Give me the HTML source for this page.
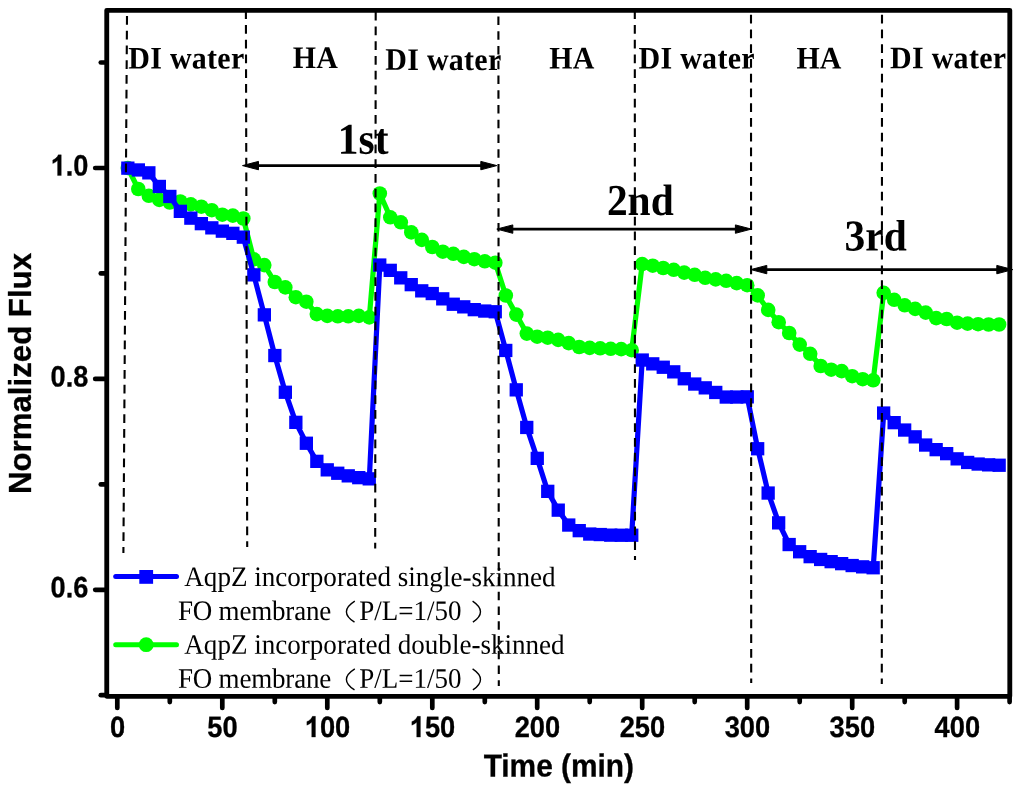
<!DOCTYPE html><html><head><meta charset="utf-8"><title>chart</title>
<style>html,body{margin:0;padding:0;background:#fff;}svg{display:block;}text{font-family:"Liberation Sans",sans-serif;fill:#000;}.b{stroke:#000;stroke-width:0.3px;}.s{font-family:"Liberation Serif",serif;}</style></head><body>
<svg width="1024" height="785" viewBox="0 0 1024 785" style="will-change:transform">
<rect width="1024" height="785" fill="#fff"/>
<polyline points="127.8,168.0 138.3,189.0 148.8,195.8 159.3,199.9 169.8,202.5 180.3,201.5 190.8,204.4 201.3,206.7 211.8,210.2 222.3,214.7 232.8,215.6 243.3,218.5 253.8,259.3 264.3,265.1 274.8,282.0 285.3,287.4 295.8,297.2 306.3,301.7 316.8,314.1 327.3,315.9 337.8,316.3 348.3,316.3 358.8,315.9 369.3,317.4 379.8,193.5 390.3,217.3 400.8,222.3 411.3,232.4 421.8,239.9 432.3,247.0 442.8,251.7 453.3,253.8 463.8,256.9 474.3,259.2 484.8,261.3 495.3,262.7 505.8,295.5 516.3,314.6 526.8,333.6 537.2,336.7 547.7,337.7 558.2,339.9 568.7,343.1 579.2,347.0 589.7,347.9 600.2,348.3 610.7,348.8 621.2,349.1 631.7,350.2 642.2,264.1 652.7,265.7 663.2,268.0 673.7,269.8 684.2,272.6 694.7,274.8 705.2,277.8 715.7,279.4 726.2,280.8 736.7,283.1 747.2,285.2 757.7,295.4 768.2,309.9 778.7,322.2 789.2,333.0 799.7,344.6 810.2,353.8 820.7,366.0 831.2,369.7 841.7,371.1 852.2,376.2 862.7,379.2 873.2,380.3 883.7,292.8 894.2,299.8 904.7,305.3 915.2,308.9 925.7,312.6 936.2,318.1 946.7,319.0 957.1,322.7 967.6,323.6 978.1,324.2 988.6,324.5 999.1,324.5" fill="none" stroke="#00ff00" stroke-width="5.2" stroke-linejoin="round"/>
<circle cx="127.8" cy="168.0" r="7.3" fill="#00ff00"/>
<circle cx="138.3" cy="189.0" r="7.3" fill="#00ff00"/>
<circle cx="148.8" cy="195.8" r="7.3" fill="#00ff00"/>
<circle cx="159.3" cy="199.9" r="7.3" fill="#00ff00"/>
<circle cx="169.8" cy="202.5" r="7.3" fill="#00ff00"/>
<circle cx="180.3" cy="201.5" r="7.3" fill="#00ff00"/>
<circle cx="190.8" cy="204.4" r="7.3" fill="#00ff00"/>
<circle cx="201.3" cy="206.7" r="7.3" fill="#00ff00"/>
<circle cx="211.8" cy="210.2" r="7.3" fill="#00ff00"/>
<circle cx="222.3" cy="214.7" r="7.3" fill="#00ff00"/>
<circle cx="232.8" cy="215.6" r="7.3" fill="#00ff00"/>
<circle cx="243.3" cy="218.5" r="7.3" fill="#00ff00"/>
<circle cx="253.8" cy="259.3" r="7.3" fill="#00ff00"/>
<circle cx="264.3" cy="265.1" r="7.3" fill="#00ff00"/>
<circle cx="274.8" cy="282.0" r="7.3" fill="#00ff00"/>
<circle cx="285.3" cy="287.4" r="7.3" fill="#00ff00"/>
<circle cx="295.8" cy="297.2" r="7.3" fill="#00ff00"/>
<circle cx="306.3" cy="301.7" r="7.3" fill="#00ff00"/>
<circle cx="316.8" cy="314.1" r="7.3" fill="#00ff00"/>
<circle cx="327.3" cy="315.9" r="7.3" fill="#00ff00"/>
<circle cx="337.8" cy="316.3" r="7.3" fill="#00ff00"/>
<circle cx="348.3" cy="316.3" r="7.3" fill="#00ff00"/>
<circle cx="358.8" cy="315.9" r="7.3" fill="#00ff00"/>
<circle cx="369.3" cy="317.4" r="7.3" fill="#00ff00"/>
<circle cx="379.8" cy="193.5" r="7.3" fill="#00ff00"/>
<circle cx="390.3" cy="217.3" r="7.3" fill="#00ff00"/>
<circle cx="400.8" cy="222.3" r="7.3" fill="#00ff00"/>
<circle cx="411.3" cy="232.4" r="7.3" fill="#00ff00"/>
<circle cx="421.8" cy="239.9" r="7.3" fill="#00ff00"/>
<circle cx="432.3" cy="247.0" r="7.3" fill="#00ff00"/>
<circle cx="442.8" cy="251.7" r="7.3" fill="#00ff00"/>
<circle cx="453.3" cy="253.8" r="7.3" fill="#00ff00"/>
<circle cx="463.8" cy="256.9" r="7.3" fill="#00ff00"/>
<circle cx="474.3" cy="259.2" r="7.3" fill="#00ff00"/>
<circle cx="484.8" cy="261.3" r="7.3" fill="#00ff00"/>
<circle cx="495.3" cy="262.7" r="7.3" fill="#00ff00"/>
<circle cx="505.8" cy="295.5" r="7.3" fill="#00ff00"/>
<circle cx="516.3" cy="314.6" r="7.3" fill="#00ff00"/>
<circle cx="526.8" cy="333.6" r="7.3" fill="#00ff00"/>
<circle cx="537.2" cy="336.7" r="7.3" fill="#00ff00"/>
<circle cx="547.7" cy="337.7" r="7.3" fill="#00ff00"/>
<circle cx="558.2" cy="339.9" r="7.3" fill="#00ff00"/>
<circle cx="568.7" cy="343.1" r="7.3" fill="#00ff00"/>
<circle cx="579.2" cy="347.0" r="7.3" fill="#00ff00"/>
<circle cx="589.7" cy="347.9" r="7.3" fill="#00ff00"/>
<circle cx="600.2" cy="348.3" r="7.3" fill="#00ff00"/>
<circle cx="610.7" cy="348.8" r="7.3" fill="#00ff00"/>
<circle cx="621.2" cy="349.1" r="7.3" fill="#00ff00"/>
<circle cx="631.7" cy="350.2" r="7.3" fill="#00ff00"/>
<circle cx="642.2" cy="264.1" r="7.3" fill="#00ff00"/>
<circle cx="652.7" cy="265.7" r="7.3" fill="#00ff00"/>
<circle cx="663.2" cy="268.0" r="7.3" fill="#00ff00"/>
<circle cx="673.7" cy="269.8" r="7.3" fill="#00ff00"/>
<circle cx="684.2" cy="272.6" r="7.3" fill="#00ff00"/>
<circle cx="694.7" cy="274.8" r="7.3" fill="#00ff00"/>
<circle cx="705.2" cy="277.8" r="7.3" fill="#00ff00"/>
<circle cx="715.7" cy="279.4" r="7.3" fill="#00ff00"/>
<circle cx="726.2" cy="280.8" r="7.3" fill="#00ff00"/>
<circle cx="736.7" cy="283.1" r="7.3" fill="#00ff00"/>
<circle cx="747.2" cy="285.2" r="7.3" fill="#00ff00"/>
<circle cx="757.7" cy="295.4" r="7.3" fill="#00ff00"/>
<circle cx="768.2" cy="309.9" r="7.3" fill="#00ff00"/>
<circle cx="778.7" cy="322.2" r="7.3" fill="#00ff00"/>
<circle cx="789.2" cy="333.0" r="7.3" fill="#00ff00"/>
<circle cx="799.7" cy="344.6" r="7.3" fill="#00ff00"/>
<circle cx="810.2" cy="353.8" r="7.3" fill="#00ff00"/>
<circle cx="820.7" cy="366.0" r="7.3" fill="#00ff00"/>
<circle cx="831.2" cy="369.7" r="7.3" fill="#00ff00"/>
<circle cx="841.7" cy="371.1" r="7.3" fill="#00ff00"/>
<circle cx="852.2" cy="376.2" r="7.3" fill="#00ff00"/>
<circle cx="862.7" cy="379.2" r="7.3" fill="#00ff00"/>
<circle cx="873.2" cy="380.3" r="7.3" fill="#00ff00"/>
<circle cx="883.7" cy="292.8" r="7.3" fill="#00ff00"/>
<circle cx="894.2" cy="299.8" r="7.3" fill="#00ff00"/>
<circle cx="904.7" cy="305.3" r="7.3" fill="#00ff00"/>
<circle cx="915.2" cy="308.9" r="7.3" fill="#00ff00"/>
<circle cx="925.7" cy="312.6" r="7.3" fill="#00ff00"/>
<circle cx="936.2" cy="318.1" r="7.3" fill="#00ff00"/>
<circle cx="946.7" cy="319.0" r="7.3" fill="#00ff00"/>
<circle cx="957.1" cy="322.7" r="7.3" fill="#00ff00"/>
<circle cx="967.6" cy="323.6" r="7.3" fill="#00ff00"/>
<circle cx="978.1" cy="324.2" r="7.3" fill="#00ff00"/>
<circle cx="988.6" cy="324.5" r="7.3" fill="#00ff00"/>
<circle cx="999.1" cy="324.5" r="7.3" fill="#00ff00"/>
<polyline points="127.8,168.2 138.3,170.0 148.8,172.8 159.3,186.4 169.8,196.4 180.3,211.3 190.8,218.2 201.3,223.7 211.8,227.8 222.3,231.2 232.8,233.3 243.3,237.2 253.8,274.9 264.3,314.8 274.8,355.5 285.3,392.2 295.8,422.3 306.3,443.2 316.8,461.3 327.3,469.9 337.8,473.2 348.3,475.8 358.8,477.6 369.3,478.9 379.8,265.0 390.3,270.3 400.8,277.8 411.3,284.6 421.8,290.8 432.3,293.5 442.8,298.9 453.3,304.2 463.8,306.9 474.3,309.6 484.8,311.0 495.3,311.7 505.8,350.4 516.3,389.9 526.8,427.4 537.2,458.3 547.7,491.3 558.2,510.1 568.7,525.0 579.2,530.6 589.7,534.0 600.2,534.5 610.7,535.1 621.2,535.3 631.7,535.3 642.2,360.0 652.7,363.8 663.2,367.2 673.7,371.8 684.2,378.7 694.7,384.0 705.2,387.9 715.7,392.4 726.2,397.0 736.7,397.0 747.2,396.8 757.7,448.7 768.2,493.0 778.7,522.9 789.2,544.5 799.7,551.8 810.2,556.6 820.7,559.4 831.2,561.6 841.7,563.6 852.2,565.5 862.7,566.9 873.2,567.8 883.7,413.0 894.2,422.6 904.7,430.0 915.2,436.8 925.7,445.0 936.2,449.6 946.7,453.6 957.1,458.8 967.6,462.4 978.1,464.0 988.6,464.9 999.1,465.2" fill="none" stroke="#0000ff" stroke-width="5.2" stroke-linejoin="round"/>
<rect x="121.2" y="161.5" width="13.3" height="13.3" fill="#0000ff"/>
<rect x="131.7" y="163.3" width="13.3" height="13.3" fill="#0000ff"/>
<rect x="142.2" y="166.2" width="13.3" height="13.3" fill="#0000ff"/>
<rect x="152.7" y="179.8" width="13.3" height="13.3" fill="#0000ff"/>
<rect x="163.2" y="189.8" width="13.3" height="13.3" fill="#0000ff"/>
<rect x="173.7" y="204.7" width="13.3" height="13.3" fill="#0000ff"/>
<rect x="184.2" y="211.5" width="13.3" height="13.3" fill="#0000ff"/>
<rect x="194.7" y="217.0" width="13.3" height="13.3" fill="#0000ff"/>
<rect x="205.2" y="221.2" width="13.3" height="13.3" fill="#0000ff"/>
<rect x="215.7" y="224.5" width="13.3" height="13.3" fill="#0000ff"/>
<rect x="226.2" y="226.7" width="13.3" height="13.3" fill="#0000ff"/>
<rect x="236.7" y="230.5" width="13.3" height="13.3" fill="#0000ff"/>
<rect x="247.2" y="268.2" width="13.3" height="13.3" fill="#0000ff"/>
<rect x="257.7" y="308.2" width="13.3" height="13.3" fill="#0000ff"/>
<rect x="268.2" y="348.9" width="13.3" height="13.3" fill="#0000ff"/>
<rect x="278.7" y="385.6" width="13.3" height="13.3" fill="#0000ff"/>
<rect x="289.2" y="415.7" width="13.3" height="13.3" fill="#0000ff"/>
<rect x="299.7" y="436.6" width="13.3" height="13.3" fill="#0000ff"/>
<rect x="310.2" y="454.7" width="13.3" height="13.3" fill="#0000ff"/>
<rect x="320.6" y="463.2" width="13.3" height="13.3" fill="#0000ff"/>
<rect x="331.1" y="466.6" width="13.3" height="13.3" fill="#0000ff"/>
<rect x="341.6" y="469.2" width="13.3" height="13.3" fill="#0000ff"/>
<rect x="352.1" y="471.0" width="13.3" height="13.3" fill="#0000ff"/>
<rect x="362.6" y="472.2" width="13.3" height="13.3" fill="#0000ff"/>
<rect x="373.1" y="258.4" width="13.3" height="13.3" fill="#0000ff"/>
<rect x="383.6" y="263.7" width="13.3" height="13.3" fill="#0000ff"/>
<rect x="394.1" y="271.2" width="13.3" height="13.3" fill="#0000ff"/>
<rect x="404.6" y="278.0" width="13.3" height="13.3" fill="#0000ff"/>
<rect x="415.1" y="284.2" width="13.3" height="13.3" fill="#0000ff"/>
<rect x="425.6" y="286.9" width="13.3" height="13.3" fill="#0000ff"/>
<rect x="436.1" y="292.2" width="13.3" height="13.3" fill="#0000ff"/>
<rect x="446.6" y="297.6" width="13.3" height="13.3" fill="#0000ff"/>
<rect x="457.1" y="300.2" width="13.3" height="13.3" fill="#0000ff"/>
<rect x="467.6" y="303.0" width="13.3" height="13.3" fill="#0000ff"/>
<rect x="478.1" y="304.4" width="13.3" height="13.3" fill="#0000ff"/>
<rect x="488.6" y="305.1" width="13.3" height="13.3" fill="#0000ff"/>
<rect x="499.1" y="343.8" width="13.3" height="13.3" fill="#0000ff"/>
<rect x="509.6" y="383.2" width="13.3" height="13.3" fill="#0000ff"/>
<rect x="520.1" y="420.8" width="13.3" height="13.3" fill="#0000ff"/>
<rect x="530.6" y="451.7" width="13.3" height="13.3" fill="#0000ff"/>
<rect x="541.1" y="484.7" width="13.3" height="13.3" fill="#0000ff"/>
<rect x="551.6" y="503.5" width="13.3" height="13.3" fill="#0000ff"/>
<rect x="562.1" y="518.4" width="13.3" height="13.3" fill="#0000ff"/>
<rect x="572.6" y="524.0" width="13.3" height="13.3" fill="#0000ff"/>
<rect x="583.1" y="527.4" width="13.3" height="13.3" fill="#0000ff"/>
<rect x="593.6" y="527.9" width="13.3" height="13.3" fill="#0000ff"/>
<rect x="604.1" y="528.5" width="13.3" height="13.3" fill="#0000ff"/>
<rect x="614.6" y="528.6" width="13.3" height="13.3" fill="#0000ff"/>
<rect x="625.1" y="528.6" width="13.3" height="13.3" fill="#0000ff"/>
<rect x="635.6" y="353.4" width="13.3" height="13.3" fill="#0000ff"/>
<rect x="646.1" y="357.2" width="13.3" height="13.3" fill="#0000ff"/>
<rect x="656.6" y="360.6" width="13.3" height="13.3" fill="#0000ff"/>
<rect x="667.1" y="365.2" width="13.3" height="13.3" fill="#0000ff"/>
<rect x="677.6" y="372.1" width="13.3" height="13.3" fill="#0000ff"/>
<rect x="688.1" y="377.4" width="13.3" height="13.3" fill="#0000ff"/>
<rect x="698.6" y="381.2" width="13.3" height="13.3" fill="#0000ff"/>
<rect x="709.1" y="385.8" width="13.3" height="13.3" fill="#0000ff"/>
<rect x="719.6" y="390.4" width="13.3" height="13.3" fill="#0000ff"/>
<rect x="730.1" y="390.4" width="13.3" height="13.3" fill="#0000ff"/>
<rect x="740.6" y="390.2" width="13.3" height="13.3" fill="#0000ff"/>
<rect x="751.0" y="442.1" width="13.3" height="13.3" fill="#0000ff"/>
<rect x="761.5" y="486.4" width="13.3" height="13.3" fill="#0000ff"/>
<rect x="772.0" y="516.2" width="13.3" height="13.3" fill="#0000ff"/>
<rect x="782.5" y="537.9" width="13.3" height="13.3" fill="#0000ff"/>
<rect x="793.0" y="545.1" width="13.3" height="13.3" fill="#0000ff"/>
<rect x="803.5" y="550.0" width="13.3" height="13.3" fill="#0000ff"/>
<rect x="814.0" y="552.8" width="13.3" height="13.3" fill="#0000ff"/>
<rect x="824.5" y="555.0" width="13.3" height="13.3" fill="#0000ff"/>
<rect x="835.0" y="557.0" width="13.3" height="13.3" fill="#0000ff"/>
<rect x="845.5" y="558.9" width="13.3" height="13.3" fill="#0000ff"/>
<rect x="856.0" y="560.2" width="13.3" height="13.3" fill="#0000ff"/>
<rect x="866.5" y="561.1" width="13.3" height="13.3" fill="#0000ff"/>
<rect x="877.0" y="406.4" width="13.3" height="13.3" fill="#0000ff"/>
<rect x="887.5" y="416.0" width="13.3" height="13.3" fill="#0000ff"/>
<rect x="898.0" y="423.4" width="13.3" height="13.3" fill="#0000ff"/>
<rect x="908.5" y="430.2" width="13.3" height="13.3" fill="#0000ff"/>
<rect x="919.0" y="438.4" width="13.3" height="13.3" fill="#0000ff"/>
<rect x="929.5" y="443.0" width="13.3" height="13.3" fill="#0000ff"/>
<rect x="940.0" y="447.0" width="13.3" height="13.3" fill="#0000ff"/>
<rect x="950.5" y="452.2" width="13.3" height="13.3" fill="#0000ff"/>
<rect x="961.0" y="455.8" width="13.3" height="13.3" fill="#0000ff"/>
<rect x="971.5" y="457.4" width="13.3" height="13.3" fill="#0000ff"/>
<rect x="982.0" y="458.2" width="13.3" height="13.3" fill="#0000ff"/>
<rect x="992.5" y="458.6" width="13.3" height="13.3" fill="#0000ff"/>
<line x1="115.7" y1="576.6" x2="176.5" y2="576.6" stroke="#0000ff" stroke-width="5" stroke-linecap="round"/>
<rect x="139.3" y="570.0" width="13.8" height="13.8" fill="#0000ff"/>
<line x1="115.7" y1="644.7" x2="176.5" y2="644.7" stroke="#00ff00" stroke-width="5" stroke-linecap="round"/>
<circle cx="146.2" cy="644.7" r="7.4" fill="#00ff00"/>
<text class="s" transform="translate(184.30,586.00) rotate(0.03) scale(1.003,1.045)" font-size="27">AqpZ incorporated single-skinned</text>
<text class="s" transform="translate(184.30,653.70) rotate(0.03) scale(1.003,1.045)" font-size="27">AqpZ incorporated double-skinned</text>
<text class="s" transform="translate(177.90,620.00) rotate(0.03) scale(1,1.045)" font-size="27" textLength="153.4" lengthAdjust="spacing">FO membrane</text>
<text class="s" transform="translate(359.20,620.00) rotate(0.03) scale(1,1.045)" font-size="27">P/L=1/50</text>
<text class="s" transform="translate(177.90,687.80) rotate(0.03) scale(1,1.045)" font-size="27" textLength="153.4" lengthAdjust="spacing">FO membrane</text>
<text class="s" transform="translate(359.20,687.80) rotate(0.03) scale(1,1.045)" font-size="27">P/L=1/50</text>
<path d="M354.8,601.2 Q338.2,611.7 354.5,622.2" fill="none" stroke="#000" stroke-width="1.4"/>
<path d="M472.6,601.2 Q488.2,611.7 472.9,622.2" fill="none" stroke="#000" stroke-width="1.4"/>
<path d="M354.8,668.9 Q338.2,679.4 354.5,689.9" fill="none" stroke="#000" stroke-width="1.4"/>
<path d="M472.6,668.9 Q488.2,679.4 472.9,689.9" fill="none" stroke="#000" stroke-width="1.4"/>
<rect x="106.75" y="10.35" width="903.05" height="685.95" fill="none" stroke="#000" stroke-width="4.85" stroke-linejoin="round"/>
<line x1="95.2" y1="168.0" x2="105.5" y2="168.0" stroke="#000" stroke-width="4.7" stroke-linecap="round"/>
<line x1="95.2" y1="378.9" x2="105.5" y2="378.9" stroke="#000" stroke-width="4.7" stroke-linecap="round"/>
<line x1="95.2" y1="589.8" x2="105.5" y2="589.8" stroke="#000" stroke-width="4.7" stroke-linecap="round"/>
<line x1="100.8" y1="62.5" x2="105.5" y2="62.5" stroke="#000" stroke-width="4.7" stroke-linecap="round"/>
<line x1="100.8" y1="273.4" x2="105.5" y2="273.4" stroke="#000" stroke-width="4.7" stroke-linecap="round"/>
<line x1="100.8" y1="484.4" x2="105.5" y2="484.4" stroke="#000" stroke-width="4.7" stroke-linecap="round"/>
<line x1="100.8" y1="695.2" x2="105.5" y2="695.2" stroke="#000" stroke-width="4.7" stroke-linecap="round"/>
<line x1="117.3" y1="697.5" x2="117.3" y2="708" stroke="#000" stroke-width="4.7" stroke-linecap="round"/>
<line x1="222.3" y1="697.5" x2="222.3" y2="708" stroke="#000" stroke-width="4.7" stroke-linecap="round"/>
<line x1="327.3" y1="697.5" x2="327.3" y2="708" stroke="#000" stroke-width="4.7" stroke-linecap="round"/>
<line x1="432.3" y1="697.5" x2="432.3" y2="708" stroke="#000" stroke-width="4.7" stroke-linecap="round"/>
<line x1="537.2" y1="697.5" x2="537.2" y2="708" stroke="#000" stroke-width="4.7" stroke-linecap="round"/>
<line x1="642.2" y1="697.5" x2="642.2" y2="708" stroke="#000" stroke-width="4.7" stroke-linecap="round"/>
<line x1="747.2" y1="697.5" x2="747.2" y2="708" stroke="#000" stroke-width="4.7" stroke-linecap="round"/>
<line x1="852.2" y1="697.5" x2="852.2" y2="708" stroke="#000" stroke-width="4.7" stroke-linecap="round"/>
<line x1="957.1" y1="697.5" x2="957.1" y2="708" stroke="#000" stroke-width="4.7" stroke-linecap="round"/>
<line x1="169.8" y1="697.5" x2="169.8" y2="702.1" stroke="#000" stroke-width="4.7" stroke-linecap="round"/>
<line x1="274.8" y1="697.5" x2="274.8" y2="702.1" stroke="#000" stroke-width="4.7" stroke-linecap="round"/>
<line x1="379.8" y1="697.5" x2="379.8" y2="702.1" stroke="#000" stroke-width="4.7" stroke-linecap="round"/>
<line x1="484.8" y1="697.5" x2="484.8" y2="702.1" stroke="#000" stroke-width="4.7" stroke-linecap="round"/>
<line x1="589.7" y1="697.5" x2="589.7" y2="702.1" stroke="#000" stroke-width="4.7" stroke-linecap="round"/>
<line x1="694.7" y1="697.5" x2="694.7" y2="702.1" stroke="#000" stroke-width="4.7" stroke-linecap="round"/>
<line x1="799.7" y1="697.5" x2="799.7" y2="702.1" stroke="#000" stroke-width="4.7" stroke-linecap="round"/>
<line x1="904.7" y1="697.5" x2="904.7" y2="702.1" stroke="#000" stroke-width="4.7" stroke-linecap="round"/>
<line x1="1009.6" y1="697.5" x2="1009.6" y2="702.1" stroke="#000" stroke-width="4.7" stroke-linecap="round"/>
<path d="M61.28,175.55L57.56,175.55L57.56,160.62Q55.52,162.65 52.75,163.62L52.75,160.03Q54.21,159.52 55.92,158.11Q57.62,156.69 58.26,154.80L61.28,154.80Z" fill="#000" stroke="#000" stroke-width="0.3"/>
<text class="b" transform="translate(65.70,175.55) rotate(0.03) scale(0.968,1.05)" font-size="28" font-weight="bold">.0</text>
<text class="b" transform="translate(50.62,386.45) rotate(0.03) scale(0.968,1.05)" font-size="28" font-weight="bold">0.8</text>
<text class="b" transform="translate(50.62,597.35) rotate(0.03) scale(0.968,1.05)" font-size="28" font-weight="bold">0.6</text>
<text class="b" transform="translate(109.96,737.10) rotate(0.03) scale(0.975,1.05)" font-size="28" font-weight="bold">0</text>
<text class="b" transform="translate(207.34,737.10) rotate(0.03) scale(0.975,1.05)" font-size="28" font-weight="bold">50</text>
<path d="M315.46,737.10L311.71,737.10L311.71,722.17Q309.66,724.20 306.87,725.17L306.87,721.58Q308.34,721.07 310.06,719.66Q311.78,718.24 312.42,716.35L315.46,716.35Z" fill="#000" stroke="#000" stroke-width="0.3"/>
<text class="b" transform="translate(319.91,737.10) rotate(0.03) scale(0.975,1.05)" font-size="28" font-weight="bold">00</text>
<path d="M420.43,737.10L416.69,737.10L416.69,722.17Q414.63,724.20 411.85,725.17L411.85,721.58Q413.31,721.07 415.03,719.66Q416.75,718.24 417.39,716.35L420.43,716.35Z" fill="#000" stroke="#000" stroke-width="0.3"/>
<text class="b" transform="translate(424.88,737.10) rotate(0.03) scale(0.975,1.05)" font-size="28" font-weight="bold">50</text>
<text class="b" transform="translate(514.68,737.10) rotate(0.03) scale(0.975,1.05)" font-size="28" font-weight="bold">200</text>
<text class="b" transform="translate(619.65,737.10) rotate(0.03) scale(0.975,1.05)" font-size="28" font-weight="bold">250</text>
<text class="b" transform="translate(724.63,737.10) rotate(0.03) scale(0.975,1.05)" font-size="28" font-weight="bold">300</text>
<text class="b" transform="translate(829.60,737.10) rotate(0.03) scale(0.975,1.05)" font-size="28" font-weight="bold">350</text>
<text class="b" transform="translate(934.58,737.10) rotate(0.03) scale(0.975,1.05)" font-size="28" font-weight="bold">400</text>
<text class="b" transform="translate(558.8,776.5) rotate(0.03) scale(0.982,1.045)" font-size="30.4" font-weight="bold" text-anchor="middle">Time (min)</text>
<text class="b" transform="translate(31.4,373.5) rotate(-90) scale(1.007,1.035)" font-size="31" font-weight="bold" text-anchor="middle">Normalized Flux</text>
<line x1="249.7" y1="165.6" x2="489.6" y2="165.6" stroke="#000" stroke-width="2.9"/>
<polygon points="242.5,165.6 258.5,161.4 258.5,169.8" fill="#000" stroke="#000" stroke-width="1" stroke-linejoin="round"/>
<polygon points="496.8,165.6 480.8,161.4 480.8,169.8" fill="#000" stroke="#000" stroke-width="1" stroke-linejoin="round"/>
<line x1="504.0" y1="229.1" x2="744.2" y2="229.1" stroke="#000" stroke-width="2.9"/>
<polygon points="496.8,229.1 512.8,224.9 512.8,233.3" fill="#000" stroke="#000" stroke-width="1" stroke-linejoin="round"/>
<polygon points="751.4,229.1 735.4,224.9 735.4,233.3" fill="#000" stroke="#000" stroke-width="1" stroke-linejoin="round"/>
<line x1="758.0" y1="269.6" x2="1005.6" y2="269.6" stroke="#000" stroke-width="2.9"/>
<polygon points="750.8,269.6 766.8,265.4 766.8,273.8" fill="#000" stroke="#000" stroke-width="1" stroke-linejoin="round"/>
<polygon points="1012.8,269.6 996.8,265.4 996.8,273.8" fill="#000" stroke="#000" stroke-width="1" stroke-linejoin="round"/>
<text class="s" transform="translate(363.10,153.80) rotate(0.03) scale(0.987,1.05)" font-size="42" font-weight="bold" text-anchor="middle">1st</text>
<text class="s" transform="translate(640.30,215.00) rotate(0.03) scale(0.987,1.05)" font-size="42" font-weight="bold" text-anchor="middle">2nd</text>
<text class="s" transform="translate(875.60,250.60) rotate(0.03) scale(0.987,1.05)" font-size="42" font-weight="bold" text-anchor="middle">3rd</text>
<text class="s" transform="translate(186.40,68.60) rotate(0.03) scale(1.015,1.065)" font-size="29.5" font-weight="bold" text-anchor="middle" letter-spacing="0.3">DI water</text>
<text class="s" transform="translate(315.30,68.00) rotate(0.03) scale(1.015,1.065)" font-size="29.5" font-weight="bold" text-anchor="middle">HA</text>
<text class="s" transform="translate(443.40,69.90) rotate(0.03) scale(1.015,1.065)" font-size="29.5" font-weight="bold" text-anchor="middle" letter-spacing="0.3">DI water</text>
<text class="s" transform="translate(571.80,68.60) rotate(0.03) scale(1.015,1.065)" font-size="29.5" font-weight="bold" text-anchor="middle">HA</text>
<text class="s" transform="translate(696.70,68.60) rotate(0.03) scale(1.015,1.065)" font-size="29.5" font-weight="bold" text-anchor="middle" letter-spacing="0.3">DI water</text>
<text class="s" transform="translate(819.00,68.60) rotate(0.03) scale(1.015,1.065)" font-size="29.5" font-weight="bold" text-anchor="middle">HA</text>
<text class="s" transform="translate(948.20,68.20) rotate(0.03) scale(1.015,1.065)" font-size="29.5" font-weight="bold" text-anchor="middle" letter-spacing="0.3">DI water</text>
<line x1="127.0" y1="16.0" x2="123.4" y2="553.0" stroke="#000" stroke-width="2.1" stroke-dasharray="8.7 6.05"/>
<line x1="245.9" y1="10.2" x2="247.2" y2="547.0" stroke="#000" stroke-width="2.1" stroke-dasharray="8.7 6.05"/>
<line x1="375.7" y1="11.8" x2="375.2" y2="548.5" stroke="#000" stroke-width="2.1" stroke-dasharray="8.7 6.05"/>
<line x1="498.4" y1="16.4" x2="498.8" y2="686.0" stroke="#000" stroke-width="2.1" stroke-dasharray="8.7 6.05"/>
<line x1="634.8" y1="10.2" x2="635.0" y2="560.0" stroke="#000" stroke-width="2.1" stroke-dasharray="8.7 6.05"/>
<line x1="751.0" y1="14.8" x2="751.2" y2="683.0" stroke="#000" stroke-width="2.1" stroke-dasharray="8.7 6.05"/>
<line x1="882.0" y1="14.8" x2="881.8" y2="684.0" stroke="#000" stroke-width="2.1" stroke-dasharray="8.7 6.05"/>
</svg></body></html>
